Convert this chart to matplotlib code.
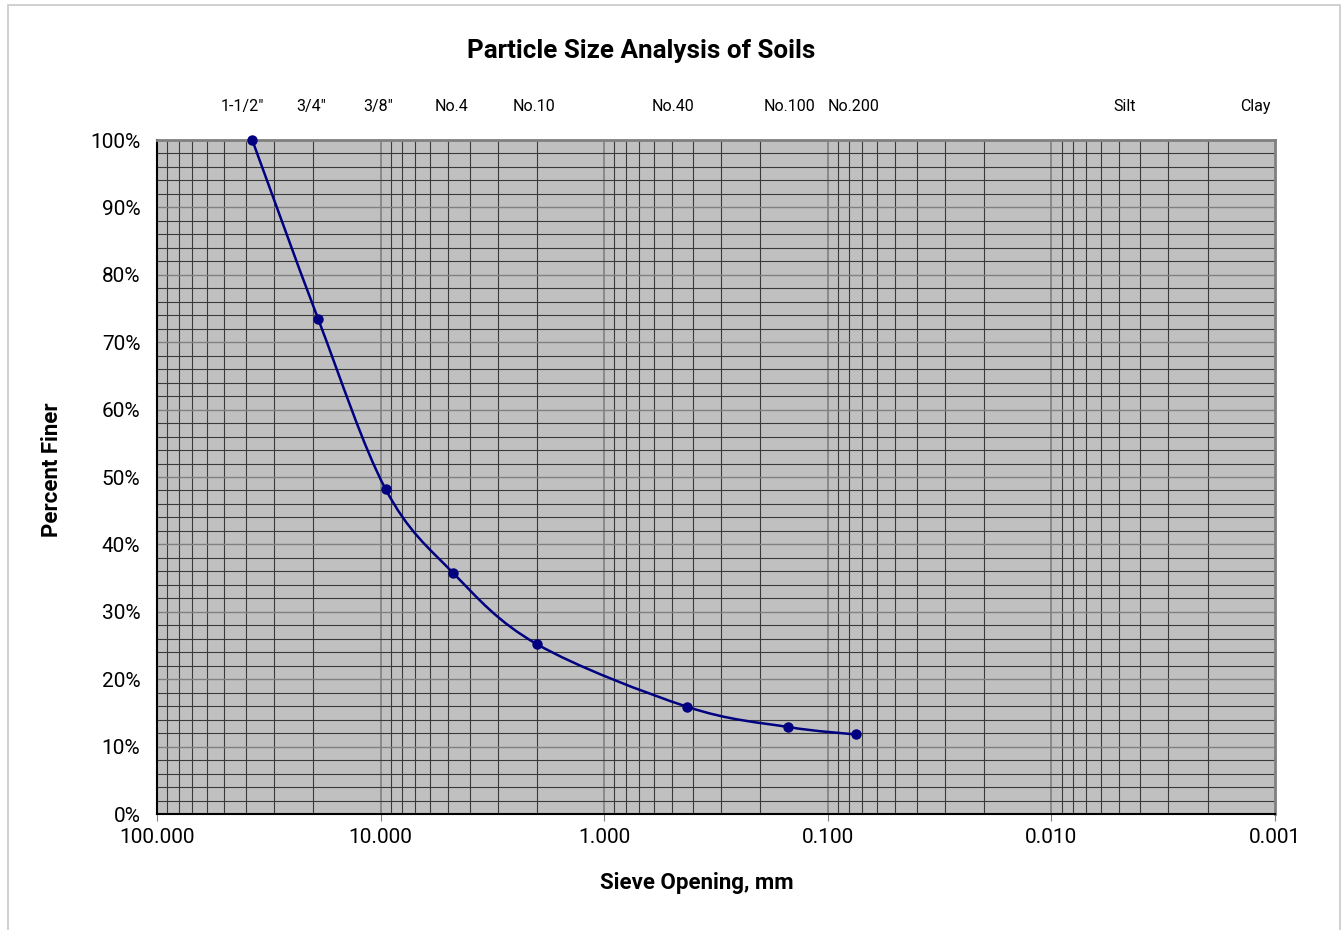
import numpy as np
import matplotlib
matplotlib.use("Agg")
import matplotlib.pyplot as plt
from matplotlib.path import Path
from matplotlib.patches import PathPatch, Rectangle
from matplotlib.ticker import FixedLocator, FuncFormatter

# ---- data ----
sieve_sizes_mm = [37.5, 19.0, 9.5, 4.75, 2.0, 0.425, 0.15, 0.075]
percent_finer = [100.0, 73.4, 48.2, 35.8, 25.2, 15.9, 12.9, 11.8]
top_labels = ['1-1/2"', '3/4"', '3/8"', 'No.4', 'No.10', 'No.40', 'No.100', 'No.200', 'Silt', 'Clay']
top_label_x = [41.7, 20.5, 10.2, 4.8, 2.06, 0.49, 0.149, 0.077, 0.0047, 0.00122]
x_ticks = [100, 10, 1, 0.1, 0.01, 0.001]
y_ticks = [0, 10, 20, 30, 40, 50, 60, 70, 80, 90, 100]

FONT = ['Roboto', 'DejaVu Sans']
plt.rcParams['font.family'] = FONT

fig = plt.figure(figsize=(13.44, 9.30), dpi=100)
# outer chart border
fig.patches.append(Rectangle((8 / 1344, -0.01), (1340 - 8) / 1344, 1 - 5 / 930 + 0.01,
                             transform=fig.transFigure, fill=False,
                             edgecolor='#c8c8c8', linewidth=1.2))

ax = fig.add_axes([157 / 1344, (930 - 814) / 930, (1275 - 157) / 1344, (814 - 140) / 930])
ax.set_facecolor('#c0c0c0')
ax.set_xscale('log')
ax.set_xlim(100, 0.001)
ax.set_ylim(0, 100)

# grid lines
minor_x = []
for dec in [10, 1, 0.1, 0.01, 0.001]:
    for m in range(2, 10):
        minor_x.append(dec * m)
for xv in minor_x:
    ax.axvline(xv, color='#3a3a3a', linewidth=0.8, zorder=1)
for xv in x_ticks[1:-1]:
    ax.axvline(xv, color='#808080', linewidth=1.2, zorder=1)
for yv in np.arange(2, 100, 2):
    if yv % 10 == 0:
        ax.axhline(yv, color='#808080', linewidth=1.0, zorder=1)
    else:
        ax.axhline(yv, color='#3a3a3a', linewidth=0.8, zorder=1)

# smoothed line (Excel-style Catmull-Rom Bezier in log-x space)
lx = np.log10(np.array(sieve_sizes_mm))
yy = np.array(percent_finer)
pts = np.column_stack([lx, yy])
n = len(pts)
verts = [pts[0]]
codes = [Path.MOVETO]
for i in range(n - 1):
    p0 = pts[i - 1] if i > 0 else pts[i]
    p1 = pts[i]
    p2 = pts[i + 1]
    p3 = pts[i + 2] if i + 2 < n else pts[i + 1]
    c1 = p1 + (p2 - p0) / 6.0
    c2 = p2 - (p3 - p1) / 6.0
    verts += [c1, c2, p2]
    codes += [Path.CURVE4] * 3
verts = np.array(verts)
verts[:, 0] = 10 ** verts[:, 0]
patch = PathPatch(Path(verts, codes), facecolor='none', edgecolor='#000080',
                  linewidth=1.8, zorder=3, transform=ax.transData)
ax.add_patch(patch)
ax.plot(sieve_sizes_mm, percent_finer, linestyle='none', marker='o', markersize=6.5,
        color='#000080', zorder=4, clip_on=False)

# axes styling
ax.xaxis.set_major_locator(FixedLocator(x_ticks))
ax.xaxis.set_minor_locator(FixedLocator([]))
ax.xaxis.set_major_formatter(FuncFormatter(lambda v, p: f"{v:.3f}"))
ax.yaxis.set_major_locator(FixedLocator(y_ticks))
ax.yaxis.set_major_formatter(FuncFormatter(lambda v, p: f"{int(round(v))}%"))
ax.tick_params(axis='x', direction='out', length=5, width=0.8, colors='#808080',
               labelcolor='black', labelsize=15, pad=5)
ax.tick_params(axis='y', length=0, labelsize=15, pad=12)
for s in ['left', 'bottom']:
    ax.spines[s].set_color('black')
    ax.spines[s].set_linewidth(1.5)
for s in ['top', 'right']:
    ax.spines[s].set_color('#808080')
    ax.spines[s].set_linewidth(2.0)

# top sieve labels
for t, xv in zip(top_labels, top_label_x):
    ax.text(xv, 1.050, t, transform=ax.get_xaxis_transform(), ha='center', va='center',
            fontsize=11.5, color='black')

ax.text((697 - 157) / 1118, (814 - 883) / 674, 'Sieve Opening, mm', transform=ax.transAxes,
        ha='center', va='center', fontsize=16, fontweight='bold')
ax.text((52 - 157) / 1118, (814 - 470) / 674, 'Percent Finer', transform=ax.transAxes,
        ha='center', va='center', rotation=90, fontsize=16, fontweight='bold')
fig.text(641 / 1344, 1 - 51 / 930, 'Particle Size Analysis of Soils', ha='center', va='center',
         fontsize=18.7, fontweight='bold')

fig.savefig('out.png', dpi=100, facecolor='white')
